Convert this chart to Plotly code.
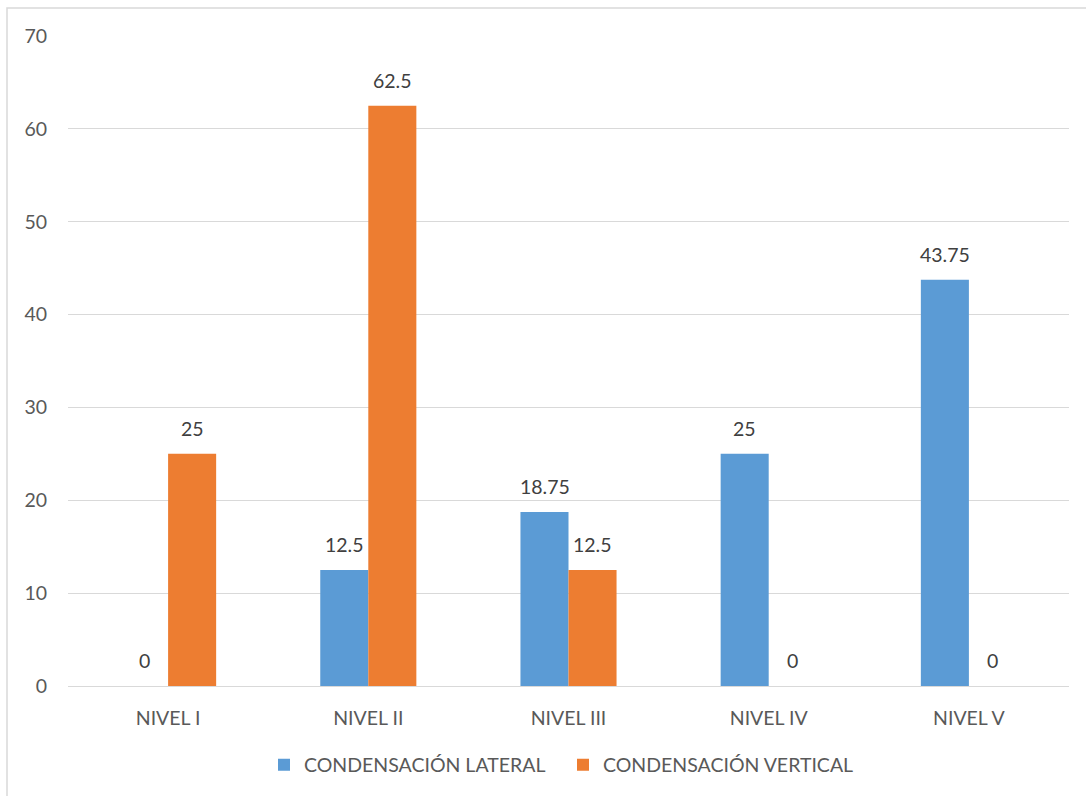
import plotly.graph_objects as go

categories = ["NIVEL I", "NIVEL II", "NIVEL III", "NIVEL IV", "NIVEL V"]
lateral = [0, 12.5, 18.75, 25, 43.75]
vertical = [25, 62.5, 12.5, 0, 0]
lateral_labels = ["0", "12.5", "18.75", "25", "43.75"]
vertical_labels = ["25", "62.5", "12.5", "0", "0"]
series_names = ["CONDENSACIÓN LATERAL", "CONDENSACIÓN VERTICAL"]
colors = ["#5B9BD5", "#ED7D31"]

W, H = 1086, 796
ML, MR, MT, MB = 68, 17, 36, 110
pw, ph = W - ML - MR, H - MT - MB

FONT = "Lato, 'Open Sans', sans-serif"
FS = 19.5

fig = go.Figure()
for name, vals, col in zip(series_names, [lateral, vertical], colors):
    fig.add_trace(go.Bar(x=categories, y=vals, name=name, marker_color=col,
                         marker_line_width=0))

annotations = []
for vals, labs, shift in [(lateral, lateral_labels, -24), (vertical, vertical_labels, 24)]:
    for c, v, t in zip(categories, vals, labs):
        annotations.append(dict(x=c, y=v, text=t, xref="x", yref="y", showarrow=False,
                                xanchor="center", yanchor="bottom", xshift=shift, yshift=12,
                                font=dict(family=FONT, size=FS, color="#404040")))

fig.update_layout(
    width=W, height=H,
    margin=dict(l=ML, r=MR, t=MT, b=MB),
    paper_bgcolor="white", plot_bgcolor="white",
    barmode="group", bargap=0.52, bargroupgap=0,
    font=dict(family=FONT, size=FS, color="#595959"),
    annotations=annotations,
    showlegend=True,
    legend=dict(orientation="h", x=(264 - ML) / pw, xanchor="left",
                y=(MT + ph - 765) / ph, yanchor="middle",
                font=dict(family=FONT, size=FS, color="#595959"),
                itemwidth=30, entrywidth=254, traceorder="normal"),
    shapes=[dict(type="rect", xref="paper", yref="paper",
                 x0=(7 - ML) / pw, x1=(1095 - ML) / pw,
                 y0=(MT + ph - 805) / ph, y1=(MT + ph - 8) / ph,
                 line=dict(color="#D9D9D9", width=1.5), fillcolor="rgba(0,0,0,0)",
                 layer="below")],
)
fig.update_yaxes(range=[0, 70], dtick=10, showgrid=True, gridcolor="#D9D9D9",
                 gridwidth=1.3, zeroline=False, showline=False, ticks="",
                 ticklabelstandoff=20, tickfont=dict(size=FS, color="#595959"))
fig.update_xaxes(showline=True, linecolor="#D9D9D9", linewidth=1.3, ticks="",
                 ticklabelstandoff=14, tickfont=dict(size=FS, color="#595959"))

fig.write_html("out.html")
